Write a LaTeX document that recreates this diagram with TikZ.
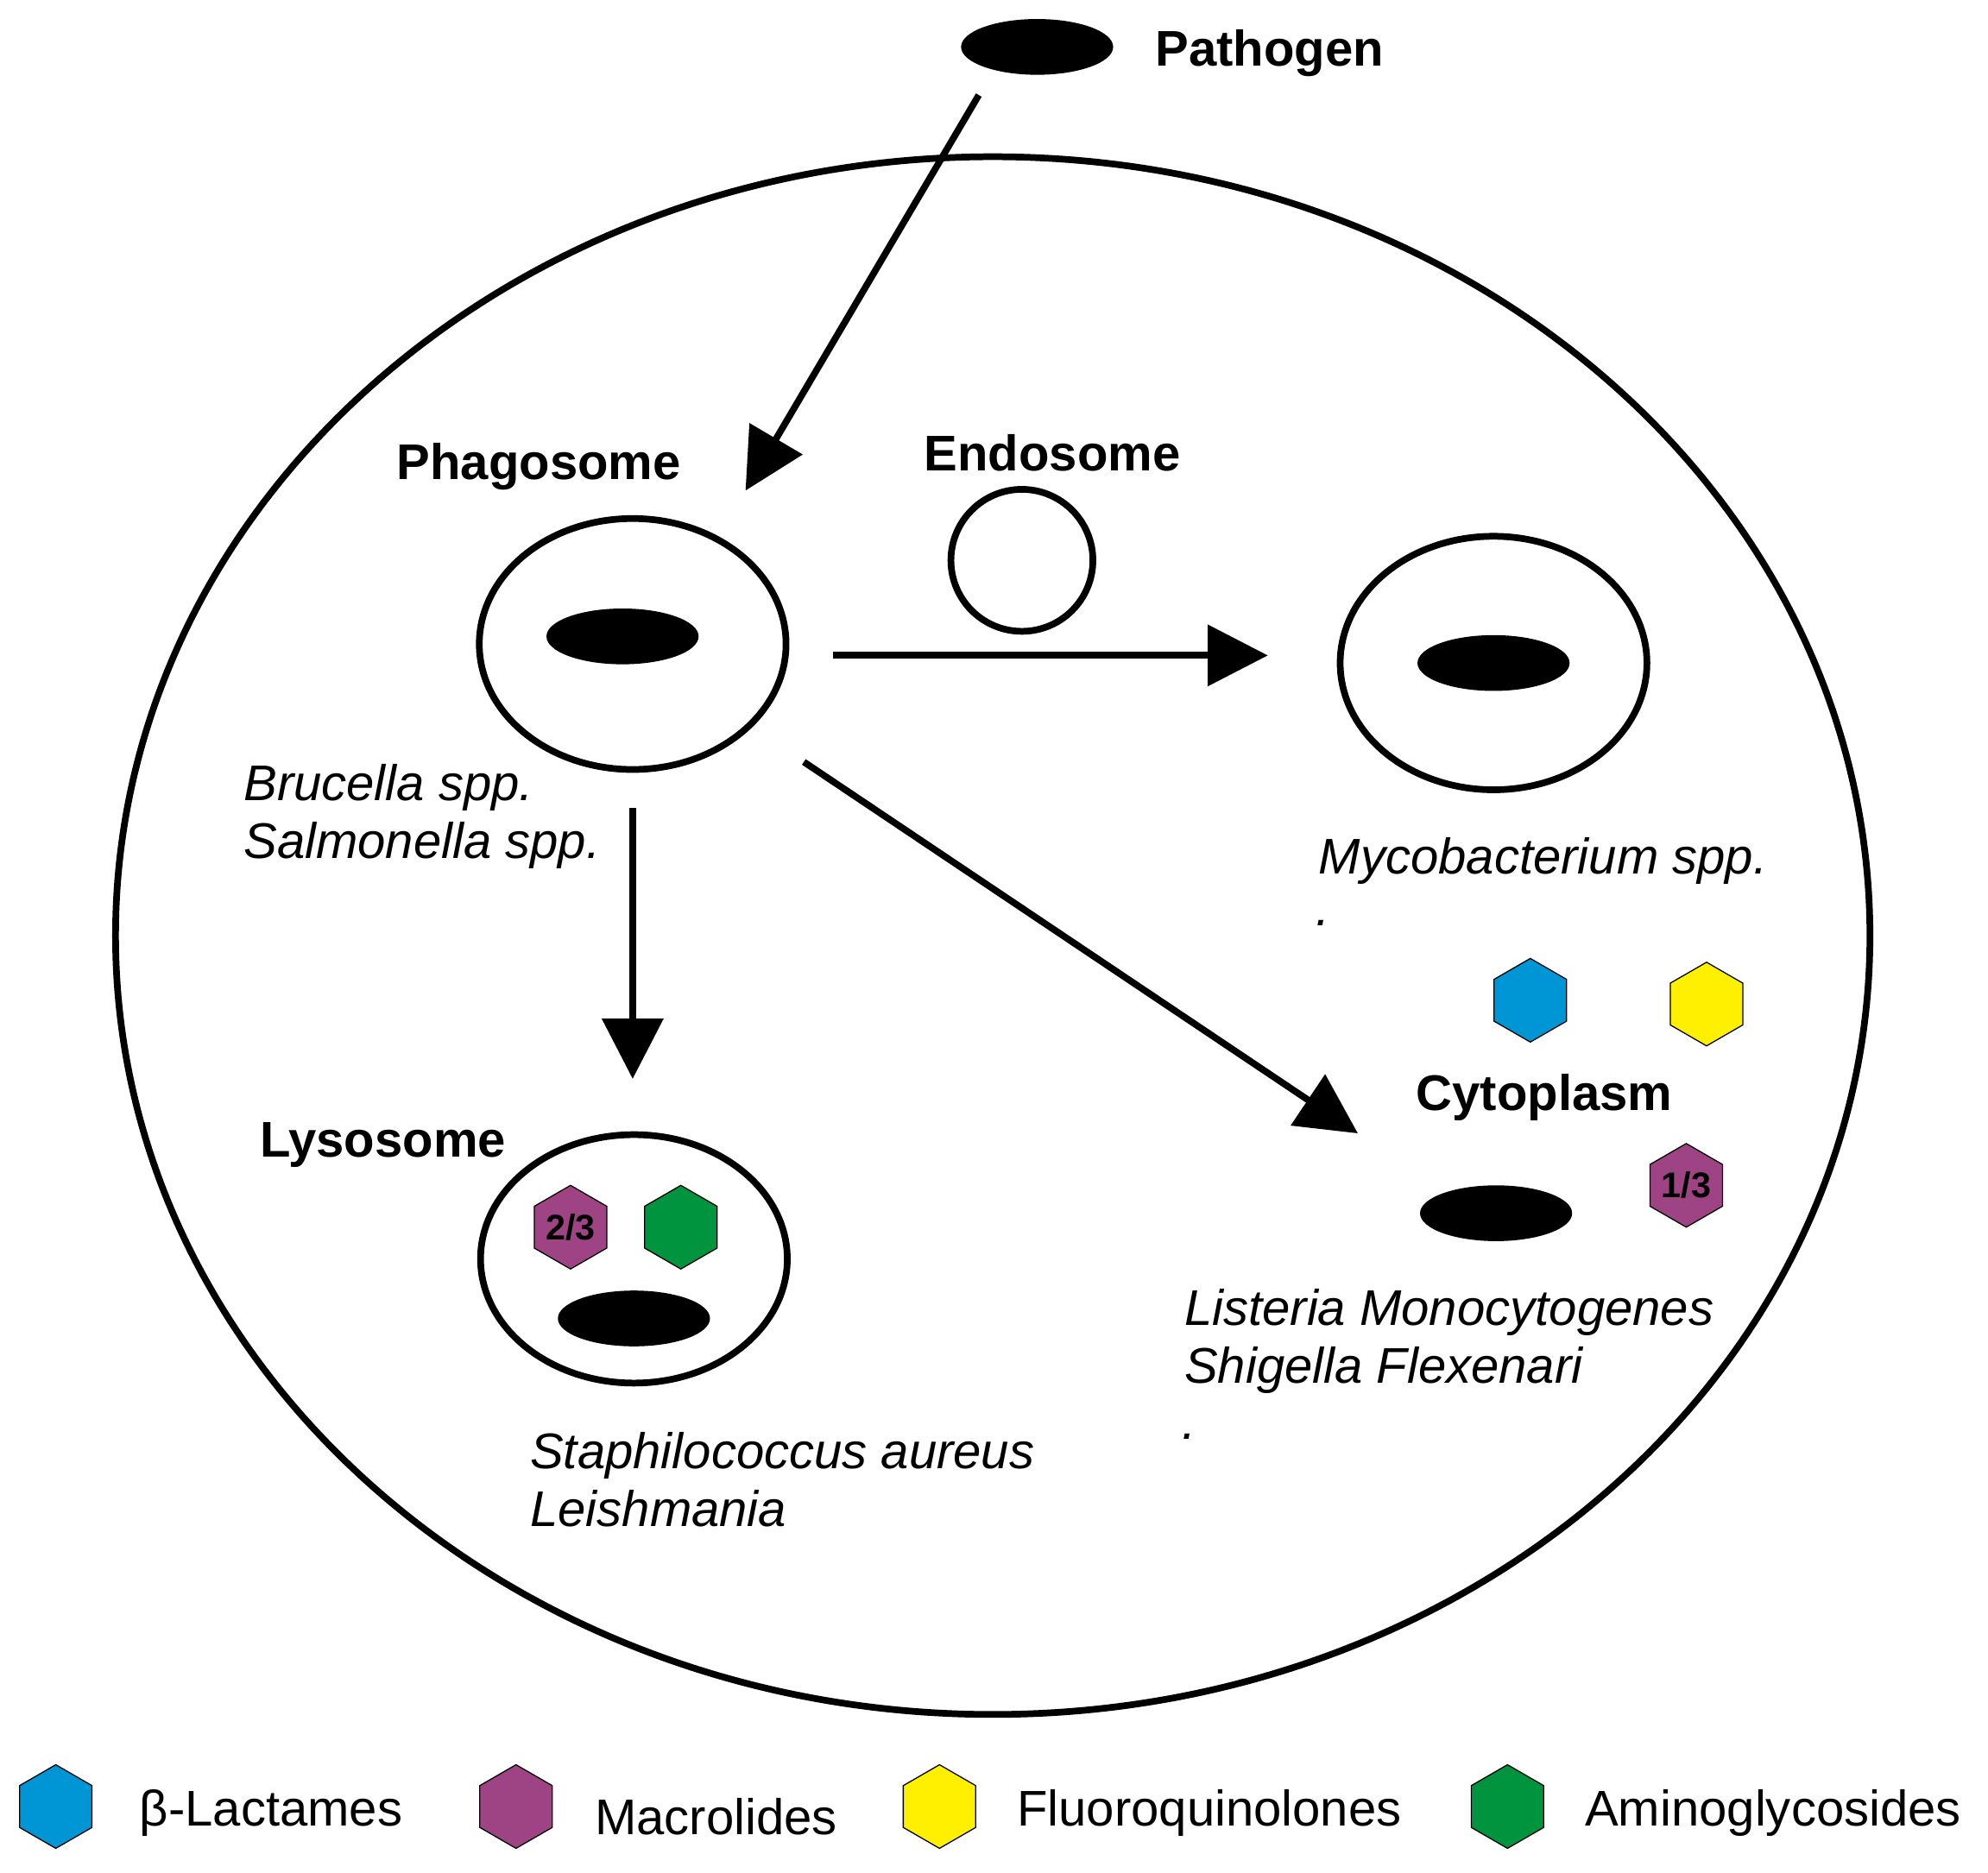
\documentclass[tikz,border=0pt]{standalone}
\usepackage{fontspec}
\setmainfont{Liberation Sans}
\usetikzlibrary{shapes.geometric,arrows.meta}
\begin{document}
\begin{tikzpicture}[x=0.02cm,y=-0.02cm,
  memb/.style={draw=black,line width=3pt,ellipse,inner sep=0pt},
  bug/.style={fill=black,ellipse,inner sep=0pt,minimum width=2.4cm,minimum height=0.88cm},
  hex/.style={regular polygon,regular polygon sides=6,shape border rotate=30,draw=black,line width=0.5pt,minimum size=1.32cm,inner sep=0pt,font=\fontsize{16}{18}\selectfont\bfseries},
  arr/.style={line width=3pt,-{Triangle[length=0.95cm,width=0.95cm]}},
  lab/.style={font=\fontsize{22.5}{26}\selectfont\bfseries},
  sp/.style={font=\fontsize{22.5}{26}\selectfont\itshape,align=left,anchor=west},
  leg/.style={font=\fontsize{22.5}{26}\selectfont,anchor=west}]
\definecolor{cblue}{RGB}{0,150,214}
\definecolor{cpurp}{RGB}{158,68,132}
\definecolor{cyel}{RGB}{255,240,0}
\definecolor{cgreen}{RGB}{0,148,62}
\useasboundingbox (0,0) rectangle (1568,1477);
\node[memb,minimum width=27.68cm,minimum height=24.58cm] (cell) at (783,738) {};
\node[bug] (path) at (818,37) {};
\node[lab,anchor=west] (pathl) at (905,42) {Pathogen};
\coordinate (ps) at (772,75);
\coordinate (pe) at (588,387);
\draw[arr] (ps) -- (pe);
\node[lab] (phl) at (425,368) {Phagosome};
\node[memb,minimum width=4.84cm,minimum height=3.96cm] (phago) at (499,508) {};
\node[bug] (b1) at (491,502) {};
\node[lab] (enl) at (830,357) {Endosome};
\node[memb,circle,minimum size=2.24cm] (endo) at (806,442) {};
\node[memb,minimum width=4.84cm,minimum height=4.0cm] (vac) at (1178,523) {};
\node[bug] (b2) at (1178,523) {};
\coordinate (a1s) at (657,517);
\coordinate (a1e) at (1000,517);
\draw[arr] (a1s) -- (a1e);
\node[sp] (bru) at (186,644) {Brucella spp.\\Salmonella spp.};
\node[sp] (myc) at (1034,679) {Mycobacterium spp.};
\node[sp] (d1) at (1032,728) {.};
\coordinate (a2s) at (499,637);
\coordinate (a2e) at (499,851);
\draw[arr] (a2s) -- (a2e);
\coordinate (a3s) at (634,601);
\coordinate (a3e) at (1071,894);
\draw[arr] (a3s) -- (a3e);
\node[lab] (lyl) at (302,903) {Lysosome};
\node[memb,minimum width=4.84cm,minimum height=3.92cm] (lyso) at (500,993) {};
\node[hex,fill=cpurp] (h1) at (450,968) {2/3};
\node[hex,fill=cgreen] (h2) at (537,968) {};
\node[bug] (b3) at (500,1040) {};
\node[sp] (sta) at (412,1167) {Staphilococcus aureus\\Leishmania};
\node[hex,fill=cblue] (h3) at (1207,789) {};
\node[hex,fill=cyel] (h4) at (1346,792) {};
\node[lab] (cyl) at (1218,866) {Cytoplasm};
\node[hex,fill=cpurp] (h5) at (1330,935) {1/3};
\node[bug] (b4) at (1180,957) {};
\node[sp] (lis) at (928,1058) {Listeria Monocytogenes\\Shigella Flexenari};
\node[sp] (d2) at (926,1133) {.};
\node[hex,fill=cblue] (l1) at (44,1425) {};
\node[leg] (t1) at (104,1430) {β-Lactames};
\node[hex,fill=cpurp] (l2) at (407,1425) {};
\node[leg] (t2) at (463,1433) {Macrolides};
\node[hex,fill=cyel] (l3) at (741,1425) {};
\node[leg] (t3) at (796,1430) {Fluoroquinolones};
\node[hex,fill=cgreen] (l4) at (1189,1425) {};
\node[leg] (t4) at (1244,1430) {Aminoglycosides};
\end{tikzpicture}
\end{document}
